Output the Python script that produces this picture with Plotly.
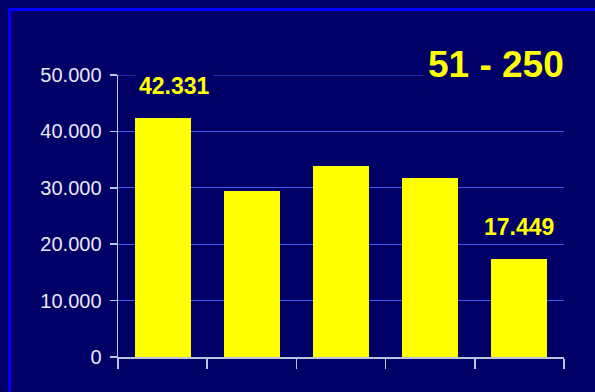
import plotly.graph_objects as go

categories = [0, 1, 2, 3, 4]
values = [42331, 29500, 33950, 31800, 17449]
labels = ["42.331", "", "", "", "17.449"]
tick_vals = [0, 10000, 20000, 30000, 40000, 50000]
tick_text = ["0", "10.000", "20.000", "30.000", "40.000", "50.000"]
title_text = "51 - 250"

BG = "#000066"
GRID = "#3A5AF0"
W, H = 595, 392
L, R, T, B = 118, 31, 75, 34.5
PW, PH = W - L - R, H - T - B


def px_x(x):
    return (x - L) / PW


def px_y(y):
    return (H - B - y) / PH


fig = go.Figure()
fig.add_trace(go.Bar(
    x=categories, y=values, width=0.627,
    marker=dict(color="#FFFF00", line=dict(width=0)),
    hoverinfo="skip",
))

annotations = []
for i, (c, v, t) in enumerate(zip(categories, values, labels)):
    if not t:
        continue
    annotations.append(dict(
        x=c, y=v, xref="x", yref="y", text="<b>%s</b>" % t,
        showarrow=False, yanchor="bottom", yshift=15,
        xshift=12 if i == 0 else 0,
        font=dict(family="Arial, Liberation Sans", size=23, color="#FFFF00"),
        bgcolor=BG, borderpad=3,
    ))
annotations.append(dict(
    x=px_x(568), y=px_y(64), xref="paper", yref="paper",
    text="<b>%s</b>" % title_text,
    showarrow=False, xanchor="right", yanchor="middle",
    font=dict(family="Arial, Liberation Sans", size=37, color="#FFFF00"),
    bgcolor=BG, borderpad=3,
))

fig.update_layout(
    width=W, height=H,
    paper_bgcolor=BG, plot_bgcolor=BG,
    margin=dict(l=L, r=R, t=T, b=B, autoexpand=False),
    showlegend=False,
    bargap=0,
    annotations=annotations,
)

fig.update_xaxes(
    range=[-0.5, 4.5], showgrid=False, zeroline=False,
    showline=True, linecolor="#B8C4DC", linewidth=1.5,
    tickmode="array", tickvals=[-0.5, 0.5, 1.5, 2.5, 3.5, 4.5],
    ticks="outside", ticklen=10, tickcolor="#B8C4DC", tickwidth=1.5,
    showticklabels=False, fixedrange=True,
)
fig.update_yaxes(
    range=[0, 50000], showgrid=True, gridcolor=GRID, gridwidth=1.2,
    zeroline=False, showline=True, linecolor="#B8C4DC", linewidth=1.5,
    tickmode="array", tickvals=tick_vals, ticktext=tick_text,
    ticks="outside", ticklen=7, tickcolor="#B8C4DC", tickwidth=1.5,
    tickfont=dict(family="Arial, Liberation Sans", size=20, color="#E8E8F0"),
    ticklabelstandoff=4, fixedrange=True,
)

# top gridline (at the range edge)
fig.add_shape(type="line", xref="x", yref="y", layer="below",
              x0=-0.5, x1=4.5, y0=tick_vals[-1], y1=tick_vals[-1],
              line=dict(color=GRID, width=1.2))

# frame lines (top and left)
fig.add_shape(type="line", xref="paper", yref="paper", layer="above",
              x0=px_x(8), x1=px_x(W),
              y0=px_y(9.5), y1=px_y(9.5),
              line=dict(color="#0000FF", width=3))
fig.add_shape(type="line", xref="paper", yref="paper", layer="above",
              x0=px_x(9.5), x1=px_x(9.5),
              y0=px_y(8), y1=px_y(H),
              line=dict(color="#0000FF", width=3))

fig.write_html(
    "out.html",
    config={"displayModeBar": False, "staticPlot": True},
    post_script="document.body.style.margin='0';document.body.style.padding='0';"
                "document.body.style.background='#000066';",
)
